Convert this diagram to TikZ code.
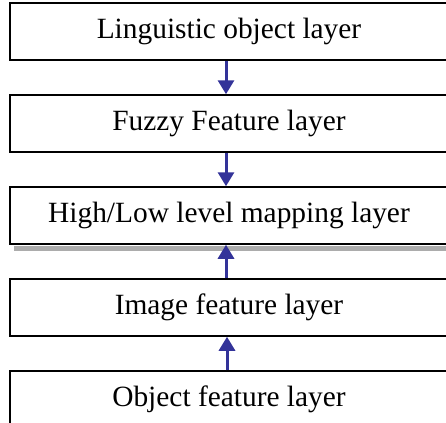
\documentclass[tikz,border=0pt]{standalone}
\usepackage{fontspec}
\setmainfont{Liberation Serif}
\usepackage{xcolor}
\usepackage{tikz}
\usetikzlibrary{arrows.meta, positioning}

\definecolor{arrblue}{RGB}{51,51,153}

\begin{document}
\begin{tikzpicture}[
  font=\fontsize{29.5}{33}\selectfont,
  node distance=33.5bp,
  layer/.style={draw, line width=2bp, minimum width=438bp,
                minimum height=56.5bp, inner sep=0pt},
  arr/.style={-{Triangle[width=16bp, length=14bp]}, line width=3bp, arrblue}
]
\fill[white] (0,0) rectangle (446bp,-423bp);
\useasboundingbox (0,0) rectangle (446bp,-423bp);

\node[layer] (ling) at (229bp,-31.5bp) {Linguistic object layer};
\node[layer, below=of ling] (fuzzy) {Fuzzy Feature layer};
\node[layer, below=of fuzzy] (map) {High/Low level mapping layer};
\node[layer, below=of map] (img) {Image feature layer};
\node[layer, below=of img] (obj) {Object feature layer};

% grey strip under the mapping layer
\fill[gray!65] ([xshift=5bp,yshift=-1.5bp]map.south west)
  rectangle ([yshift=-6.5bp]map.south east);

\draw[arr] ([xshift=-3bp]ling.south) -- ([xshift=-3bp]fuzzy.north);
\draw[arr] ([xshift=-3bp]fuzzy.south) -- ([xshift=-3bp]map.north);
\draw[arr] ([xshift=-3bp]img.north) -- ([xshift=-3bp]map.south);
\draw[arr] ([xshift=-2bp]obj.north) -- ([xshift=-2bp]img.south);
\end{tikzpicture}
\end{document}
